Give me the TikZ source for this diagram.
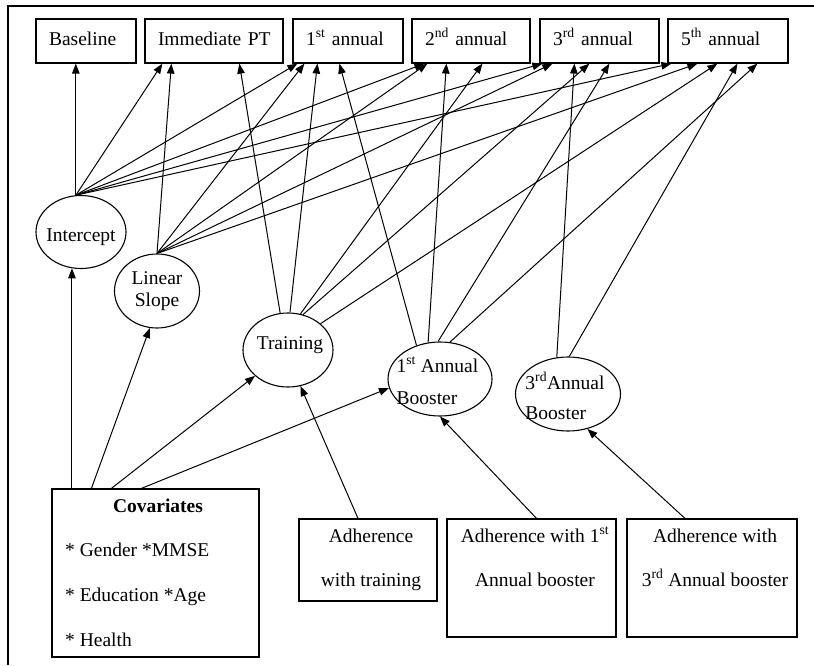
\documentclass[tikz,border=0pt]{standalone}
\usepackage{fontspec}
\setmainfont{Liberation Serif}
\usetikzlibrary{shapes.geometric,arrows.meta,calc}
\begin{document}
\begin{tikzpicture}[x=1pt,y=-1pt,
  every node/.style={font=\fontsize{19.5}{22}\selectfont},
  topbox/.style={draw,line width=1.2pt,rectangle,minimum height=44,inner xsep=13,inner ysep=0,
    align=left,text height=13,text depth=4,text width=#1},
  box/.style={draw,line width=1.2pt,rectangle,inner sep=0},
  ell/.style={draw,ellipse,line width=1.1pt,inner sep=0},
  txt/.style={inner sep=0,text height=13,text depth=4},
  conn/.style={-{Triangle[length=10pt,width=7.5pt]},line width=1pt}
]
\useasboundingbox (0,0) rectangle (814,665);
% frame
\draw[line width=1.3pt] (8,665) -- (8,6) -- (814,6);

% outcome boxes
\node[topbox=74]  (base) at (86,41)   {\mbox{Baseline}};
\node[topbox=112] (imm)  at (214,41)  {\mbox{Immediate PT}};
\node[topbox=84]  (a1)   at (348,41)  {\mbox{1\textsuperscript{st} annual}};
\node[topbox=92]  (a2)   at (471,41)  {\mbox{2\textsuperscript{nd} annual}};
\node[topbox=93]  (a3)   at (599.5,41){\mbox{3\textsuperscript{rd} annual}};
\node[topbox=94]  (a5)   at (728,41)  {\mbox{5\textsuperscript{th} annual}};

% latent ellipses
\node[ell,minimum width=90,minimum height=73]  (ic) at (81,232)  {};
\node[txt] at (81,237) {Intercept};
\node[ell,minimum width=85,minimum height=74]  (ls) at (157,291) {};
\node[align=center,inner sep=0] at (157,291) {Linear\\Slope};
\node[ell,minimum width=90,minimum height=74]  (tr) at (288,350) {};
\node[txt] at (290,345) {Training};
\node[ell,minimum width=104,minimum height=74] (b1) at (440,379) {};
\node[align=left,inner sep=0,font=\fontsize{19.5}{32}\selectfont] at (437.5,381) {1\textsuperscript{st} Annual\\Booster};
\node[ell,minimum width=105,minimum height=74] (b3) at (568,394) {};
\node[align=left,inner sep=0,font=\fontsize{19.5}{30}\selectfont] at (565,396) {3\textsuperscript{rd}Annual\\Booster};

% bottom boxes
\node[box,minimum width=207,minimum height=168] (cov) at (155.5,573) {};
\node[txt,font=\fontsize{19.5}{22}\selectfont\bfseries] at (158,508) {Covariates};
\node[txt,anchor=west] at (65,552) {* Gender *MMSE};
\node[txt,anchor=west] at (65,597) {* Education *Age};
\node[txt,anchor=west] at (65,642) {* Health};

\node[box,minimum width=138,minimum height=82] (at1) at (368,560) {};
\node[txt] at (371,538) {Adherence};
\node[txt] at (371,582) {with training};

\node[box,minimum width=169,minimum height=118] (ad1) at (531.5,578) {};
\node[txt] at (535,538) {Adherence with 1\textsuperscript{st}};
\node[txt] at (535,582) {Annual booster};

\node[box,minimum width=170,minimum height=118] (ad3) at (712,578) {};
\node[txt] at (715,538) {Adherence with};
\node[txt] at (715,582) {3\textsuperscript{rd} Annual booster};

% intercept loadings
\draw[conn] (ic.98) -- (ic.98 |- base.south);
\draw[conn] (ic.98) -- ([xshift=18]imm.south west);
\draw[conn] (ic.98) -- ([xshift=5]a1.south west);
\draw[conn] (ic.98) -- ([xshift=13]a2.south west);
\draw[conn] (ic.98) -- ([xshift=3]a3.south west);
\draw[conn] (ic.98) -- ([xshift=4]a5.south west);
% slope loadings
\draw[conn] (ls.north) -- ([xshift=27]imm.south west);
\draw[conn] (ls.north) -- ([xshift=12]a1.south west);
\draw[conn] (ls.north) -- ([xshift=16]a2.south west);
\draw[conn] (ls.north) -- ([xshift=13]a3.south west);
\draw[conn] (ls.north) -- ([xshift=30]a5.south west);
% training
\draw[conn] (tr.102) -- ([xshift=95]imm.south west);
\draw[conn] (tr.87)  -- ([xshift=25]a1.south west);
\draw[conn] (tr.71)  -- ([xshift=71]a2.south west);
\draw[conn] (tr.67)  -- ([xshift=50]a3.south west);
\draw[conn] (tr.39)  -- ([xshift=50]a5.south west);
% 1st booster
\draw[conn] (b1.125) -- ([xshift=47]a1.south west);
\draw[conn] (b1.108) -- ([xshift=35]a2.south west);
\draw[conn] (b1.93)  -- ([xshift=70]a3.south west);
\draw[conn] (b1.75)  -- ([xshift=90]a5.south west);
% 3rd booster
\draw[conn] (b3.107) -- ([xshift=35]a3.south west);
\draw[conn] (b3.88)  -- ([xshift=70]a5.south west);
% covariates and adherence
\draw[conn] (cov.north -| ic.256) -- (ic.256);
\draw[conn] ([xshift=40]cov.north west) -- (ls.259);
\draw[conn] ([xshift=60]cov.north west) -- (tr);
\draw[conn] ([xshift=90]cov.north west) -- (b1.190);
\draw[conn] ([xshift=-10]at1.north) -- (tr.289);
\draw[conn] ([xshift=5]ad1.north) -- (b1.south);
\draw[conn] ([xshift=-27]ad3.north) -- (b3.299);
\end{tikzpicture}
\end{document}
